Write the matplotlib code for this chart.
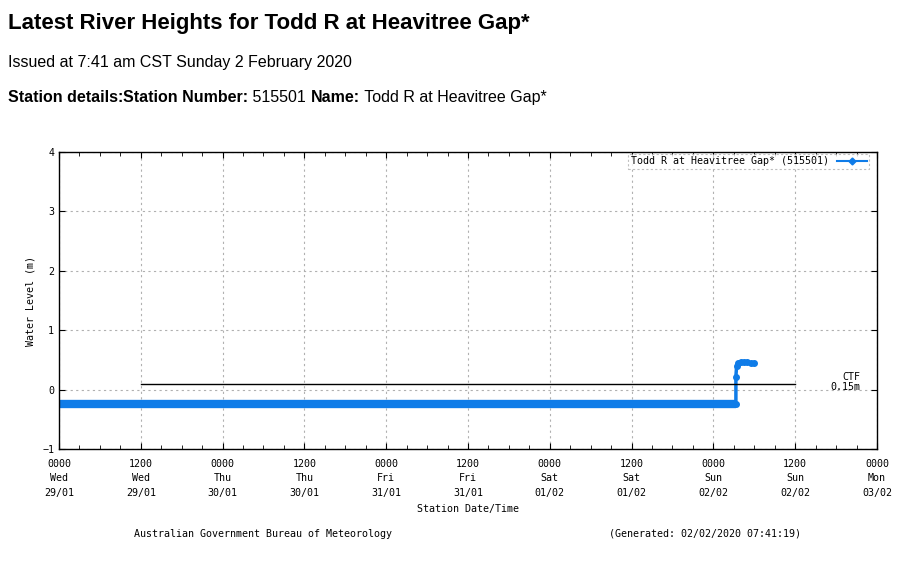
import numpy as np
import matplotlib
matplotlib.use("Agg")
from matplotlib import pyplot as plt
from matplotlib.lines import Line2D

# hours since 0000 Wed 29/01
tick_hours = [0, 12, 24, 36, 48, 60, 72, 84, 96, 108, 120]
tick_labels = ["0000\nWed\n29/01", "1200\nWed\n29/01", "0000\nThu\n30/01",
               "1200\nThu\n30/01", "0000\nFri\n31/01", "1200\nFri\n31/01",
               "0000\nSat\n01/02", "1200\nSat\n01/02", "0000\nSun\n02/02",
               "1200\nSun\n02/02", "0000\nMon\n03/02"]

# flat reading before the rise
flat_hours = [0, 99.3]
flat_level = [-0.25, -0.25]

# readings during the rise on Sunday morning
rise_hours = [99.3, 99.3, 99.4, 99.6, 100.0, 100.5, 101.0, 101.5, 101.9]
rise_level = [-0.25, 0.22, 0.39, 0.45, 0.47, 0.47, 0.46, 0.45, 0.44]

ctf_hours = [12, 108]
ctf_level = [0.1, 0.1]

blue = "#0f7ce8"
mono = "DejaVu Sans Mono"
fs = 7.2

fig = plt.figure(figsize=(9.03, 5.79), dpi=100)
ax = fig.add_axes([59/903, 1-449/579, (877-59)/903, (449-152)/579])

ax.plot(flat_hours, flat_level, color=blue, lw=6, solid_capstyle="butt")
ax.plot(rise_hours, rise_level, color=blue, lw=2.5, marker="o", ms=4)
ax.plot(ctf_hours, ctf_level, color="black", lw=1)
ax.text(117.5, 0.12, "CTF", ha="right", va="bottom", fontsize=fs, family=mono)
ax.text(117.5, 0.12, "0.15m", ha="right", va="top", fontsize=fs, family=mono)

ax.set_xlim(0, 120)
ax.set_ylim(-1, 4)
ax.set_xticks(tick_hours)
ax.set_xticklabels(tick_labels, fontsize=fs, family=mono, linespacing=1.55)
ax.set_xticks(np.arange(0, 121, 3), minor=True)
ax.set_yticks([-1, 0, 1, 2, 3, 4])
ax.tick_params(axis="both", direction="in", length=4, labelsize=fs,
               top=True, right=True)
ax.tick_params(axis="x", which="major", pad=7)
ax.tick_params(axis="x", which="minor", direction="in", length=3, top=True)
for lab in ax.get_yticklabels():
    lab.set_family(mono)
ax.grid(True, which="major", color="#b0b0b0", linestyle=(0, (2, 3)), lw=0.8)
for s in ax.spines.values():
    s.set_linewidth(1)

ax.set_ylabel("Water Level (m)", fontsize=fs, family=mono, labelpad=5)
ax.set_xlabel("Station Date/Time", fontsize=fs, family=mono, labelpad=5)

handle = Line2D([], [], color=blue, lw=1.5, marker="D", ms=3.5)
leg = ax.legend([handle], ["Todd R at Heavitree Gap* (515501)"], loc="upper right",
                prop={"family": mono, "size": fs}, markerfirst=False,
                frameon=True, fancybox=False, borderpad=0.25,
                handlelength=3, borderaxespad=0.15)
leg.get_frame().set_edgecolor("#b0b0b0")
leg.get_frame().set_linestyle((0, (2, 2)))
leg.get_frame().set_linewidth(0.8)
leg.set_bbox_to_anchor((1 - 6/818, 1), transform=ax.transAxes)

# page headers
sans = "Liberation Sans"
fig.text(8/903, 1-24/579, "Latest River Heights for Todd R at Heavitree Gap*",
         fontsize=16, fontweight="bold", family=sans, va="center")
fig.text(8/903, 1-67/579, "Issued at 7:41 am CST Sunday 2 February 2020",
         fontsize=11.5, family=sans, va="baseline")

renderer = fig.canvas.get_renderer()
pieces = [("Station details:", "bold"), ("Station Number:", "bold"),
          (" 515501 ", "normal"), ("Name:", "bold"),
          (" Todd R at Heavitree Gap*", "normal")]
x = 8
for txt, wt in pieces:
    t = fig.text(x/903, 1-102/579, txt, fontsize=11.5, fontweight=wt,
                 family=sans, va="baseline")
    x += t.get_window_extent(renderer).width

fig.text(134/903, 1-534/579, "Australian Government Bureau of Meteorology",
         fontsize=fs, family=mono, va="center")
fig.text(609/903, 1-534/579, "(Generated: 02/02/2020 07:41:19)",
         fontsize=fs, family=mono, va="center")

fig.savefig("out.png", dpi=100)
